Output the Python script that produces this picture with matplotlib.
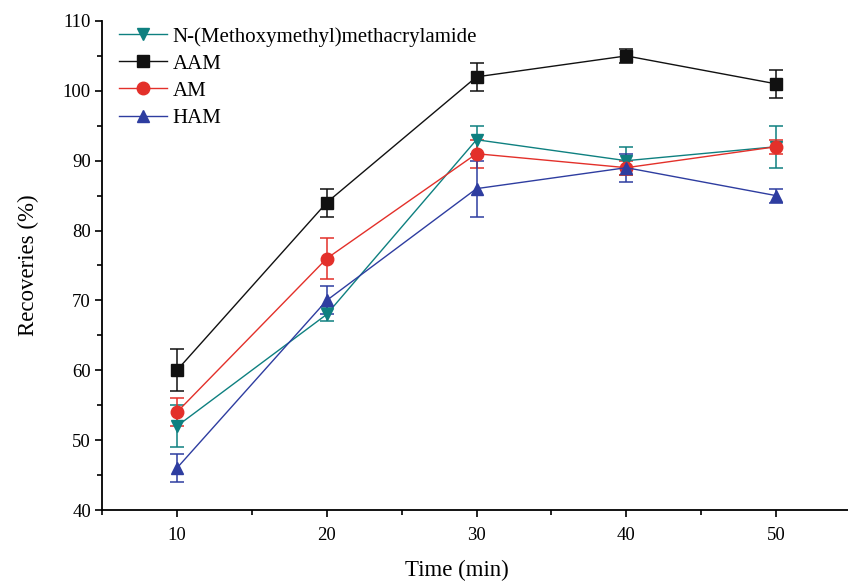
import matplotlib
matplotlib.use("Agg")
import matplotlib.pyplot as plt
from matplotlib.ticker import MultipleLocator
from matplotlib.lines import Line2D

plt.rcParams['font.family'] = ['Liberation Serif', 'DejaVu Serif']

time = [10, 20, 30, 40, 50]
nmm = [52, 68, 93, 90, 92]
nmm_err = [3, 1, 2, 2, 3]
aam = [60, 84, 102, 105, 101]
aam_err = [3, 2, 2, 1, 2]
am = [54, 76, 91, 89, 92]
am_err = [2, 3, 2, 1, 1]
ham = [46, 70, 86, 89, 85]
ham_err = [2, 2, 4, 2, 1]

labels = ["N-(Methoxymethyl)methacrylamide", "AAM", "AM", "HAM"]
series = [(nmm, nmm_err, '#0E8080', 'v'),
          (aam, aam_err, '#111111', 's'),
          (am, am_err, '#E3302A', 'o'),
          (ham, ham_err, '#2E3DA0', '^')]

fig = plt.figure(figsize=(8.48, 5.81), dpi=100)
ax = fig.add_axes([0.1203, 0.1222, 0.8797, 0.8417])

handles = []
for (y, e, c, m), lab in zip(series, labels):
    ax.errorbar(time, y, yerr=e, color=c, marker=m, markersize=9,
                linewidth=1.0, elinewidth=1.1, capsize=5, capthick=1.1)
    handles.append(Line2D([], [], color=c, marker=m, markersize=9,
                          linewidth=1.0, label=lab))

ax.set_xlim(5, 54.8)
ax.set_ylim(40, 110)
ax.xaxis.set_major_locator(MultipleLocator(10))
ax.xaxis.set_minor_locator(MultipleLocator(5))
ax.yaxis.set_major_locator(MultipleLocator(10))
ax.yaxis.set_minor_locator(MultipleLocator(5))
ax.spines['top'].set_visible(False)
ax.spines['right'].set_visible(False)
ax.spines['left'].set_linewidth(1.3)
ax.spines['bottom'].set_linewidth(1.3)
ax.tick_params(which='major', direction='out', length=5, width=1.2, labelsize=13.5)
ax.tick_params(which='minor', direction='out', length=3.5, width=1.2)
ax.tick_params(axis='x', pad=7)
ax.tick_params(axis='y', pad=3)

ax.set_xlabel("Time (min)", fontsize=16.5)
ax.xaxis.set_label_coords(0.476, -0.101)
ax.set_ylabel("Recoveries (%)", fontsize=16.5, labelpad=17)

ax.legend(handles=handles, loc='upper left', frameon=False, fontsize=15,
          handlelength=2.3, handletextpad=0.25, labelspacing=0.36,
          borderaxespad=0.0, bbox_to_anchor=(0.012, 1.005))

fig.savefig("out.png", dpi=100)
